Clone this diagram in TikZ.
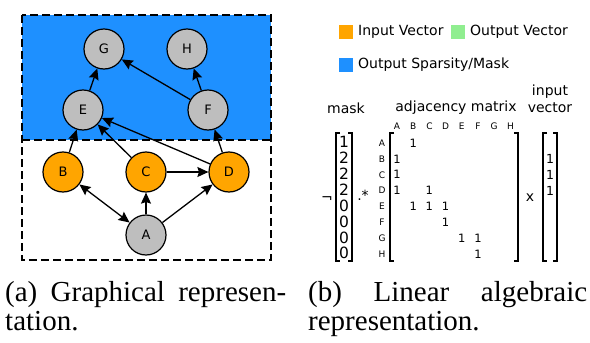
\documentclass[tikz,border=0pt]{standalone}
\usepackage{fontspec}
\setmainfont{Liberation Serif}
\newfontfamily\vfont{DejaVu Sans}
\usetikzlibrary{arrows.meta}
\definecolor{maskblue}{HTML}{1E90FF}
\definecolor{inorange}{HTML}{FFA500}
\definecolor{outgreen}{HTML}{90EE90}
\definecolor{vgray}{HTML}{BEBEBE}

\begin{document}
\begin{tikzpicture}[x=1pt, y=-1pt,
  vertex/.style={circle, draw, line width=1.2pt, fill=vgray, minimum size=40pt, inner sep=0pt, font=\vfont\fontsize{13}{13}\selectfont},
  invertex/.style={vertex, fill=inorange},
  edge/.style={line width=1.3pt, -{Stealth[length=11pt, width=10pt, inset=1.5pt]}},
  frame/.style={line width=1.5pt, dash pattern=on 8pt off 4pt},
  legbox/.style={minimum size=14pt, inner sep=0pt},
  legtext/.style={anchor=west, inner sep=0pt, font=\vfont\fontsize{14}{16}\selectfont},
  heading/.style={inner sep=0pt, font=\vfont\fontsize{14}{16}\selectfont},
  idx/.style={inner sep=0pt, font=\vfont\fontsize{9}{10}\selectfont},
  entry/.style={inner sep=0pt, font=\vfont\fontsize{11.5}{12}\selectfont},
  maskval/.style={inner sep=0pt, font=\vfont\fontsize{15.5}{15}\selectfont},
  bracket/.style={line width=1.2pt},
  caption/.style={anchor=base west, inner sep=0pt, font=\fontsize{29}{32}\selectfont}]

\useasboundingbox (0,0) rectangle (590,343);

\fill[maskblue] (22,15) rectangle (271,140);
\draw[frame] (22,15) rectangle (271,260);
\draw[frame] (22,140) -- (271,140);

\node[vertex] (G) at (104,49) {G};
\node[vertex] (H) at (187,49) {H};
\node[vertex] (E) at (83,110) {E};
\node[vertex] (F) at (208,110) {F};
\node[invertex] (B) at (63,172) {B};
\node[invertex] (C) at (146,172) {C};
\node[invertex] (D) at (229,172) {D};
\node[vertex] (A) at (146,235) {A};

\draw[edge] (E) -- (G);
\draw[edge] (F) -- (G);
\draw[edge] (F) -- (H);
\draw[edge] (B) -- (E);
\draw[edge] (C) -- (E);
\draw[edge] (D) -- (E);
\draw[edge] (D) -- (F);
\draw[edge] (C) -- (D);
\draw[edge] (A) -- (C);
\draw[edge] (A) -- (D);
\draw[edge, {Stealth[length=11pt, width=10pt, inset=1.5pt]}-{Stealth[length=11pt, width=10pt, inset=1.5pt]}] (A) -- (B);

\node[legbox, fill=inorange] (kin) at (345.5,32) {};
\node[legtext] (tin) at (358,32) {Input Vector};
\node[legbox, fill=outgreen] (kout) at (458,32) {};
\node[legtext] (tout) at (470,32) {Output Vector};
\node[legbox, fill=maskblue] (kmask) at (345.5,65) {};
\node[legtext] (tmask) at (358,65) {Output Sparsity/Mask};

\node[heading] (hmask) at (346,108) {mask};
\node[heading] (hadj) at (456,108) {adjacency matrix};
\node[heading] (hin1) at (550,92) {input};
\node[heading] (hin2) at (550,108) {vector};

\foreach \l [count=\i from 0] in {A,B,C,D,E,F,G,H} {
  \node[idx] (col\l) at (397+16.2*\i,126) {\l};
  \node[idx] (row\l) at (382,143+15.9*\i) {\l};
}
\foreach \r/\c in {A/B, B/A, C/A, D/A, D/C, E/B, E/C, E/D, F/D, G/E, G/F, H/F}
  \node[entry] (e\r\c) at (col\c |- row\r) {1};

\foreach \v [count=\i from 0] in {1,2,2,2,0,0,0,0}
  \node[maskval] (m\i) at (344,142+15.9*\i) {\v};
\coordinate (vcol) at (550,0);
\foreach \r in {B,C,D}
  \node[entry, font=\vfont\fontsize{12.5}{13}\selectfont] (v\r) at (vcol |- row\r) {1};

\node[heading] (neg) at (327,200) {¬};
\node[heading] (times) at (363,195) {.*};
\node[heading] (prod) at (530,198) {x};

% brackets
\draw[bracket] (340,133) -- (336,133) -- (336,261) -- (340,261);
\draw[bracket] (348,133) -- (352,133) -- (352,261) -- (348,261);
\draw[bracket] (394,133) -- (390,133) -- (390,261) -- (394,261);
\draw[bracket] (514,133) -- (518,133) -- (518,261) -- (514,261);
\draw[bracket] (547,133) -- (543,133) -- (543,261) -- (547,261);
\draw[bracket] (553,133) -- (557,133) -- (557,261) -- (553,261);

\node[caption] (capa1) at (5,301) {\makebox[281pt][s]{(a) Graphical represen-}};
\node[caption] (capa2) at (5,330) {tation.};
\node[caption] (capb1) at (308,301) {\makebox[279pt][s]{(b) Linear algebraic}};
\node[caption] (capb2) at (308,330) {representation.};
\end{tikzpicture}
\end{document}
